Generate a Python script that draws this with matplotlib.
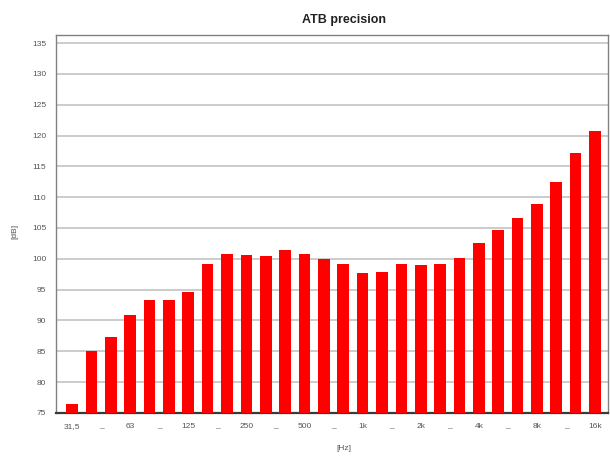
import matplotlib
matplotlib.use("Agg")
import matplotlib.pyplot as plt
import numpy as np

plt.rcParams['font.family'] = ['Liberation Sans', 'DejaVu Sans']

bands = ["31,5", "40", "50", "63", "80", "100", "125", "160", "200", "250",
         "315", "400", "500", "630", "800", "1k", "1,25k", "1,6k", "2k", "2,5k",
         "3,15k", "4k", "5k", "6,3k", "8k", "10k", "12,5k", "16k"]
levels_db = [76.4, 85.1, 87.4, 90.9, 93.4, 93.4, 94.6, 99.1, 100.8, 100.6,
             100.4, 101.4, 100.8, 99.9, 99.2, 97.7, 97.8, 99.1, 99.0, 99.1,
             100.1, 102.5, 104.6, 106.7, 108.9, 112.4, 117.2, 120.8]
tick_labels = ["31,5", "_", "63", "_", "125", "_", "250", "_", "500", "_",
               "1k", "_", "2k", "_", "4k", "_", "8k", "_", "16k"]
y_ticks = [75, 80, 85, 90, 95, 100, 105, 110, 115, 120, 125, 130, 135]

fig = plt.figure(figsize=(6.10, 4.58), dpi=100)
ax = fig.add_axes([0.0918, 0.0983, 0.9049, 0.8253])

x = np.arange(len(bands))
ax.bar(x, [v - 75 for v in levels_db], bottom=75, width=0.6, color="#ff0000", zorder=3)

ax.set_xlim(-0.83, len(bands) - 1 + 0.67)
ax.set_ylim(75, 136.3)
ax.set_yticks(y_ticks)
ax.set_yticklabels([str(t) for t in y_ticks])
tick_pos = np.arange(len(tick_labels)) * 1.5
ax.set_xticks(tick_pos)
ax.set_xticklabels(tick_labels)
ax.tick_params(axis="both", length=0, labelsize=6, colors="#555555", pad=7)

ax.yaxis.grid(True, color="#c4c4c4", linewidth=1.2, zorder=0)
ax.xaxis.grid(False)
for s in ["top", "left", "right"]:
    ax.spines[s].set_color("#808080")
    ax.spines[s].set_linewidth(1.0)
ax.spines["bottom"].set_color("#3a3a3a")
ax.spines["bottom"].set_linewidth(1.6)

fig.text(344 / 610, 1 - 20 / 458, "ATB precision", ha="center", va="center",
         fontsize=9, fontweight="bold", color="#222222")
fig.text(15 / 610, 1 - 231 / 458, "[dB]", ha="center", va="center",
         rotation=90, fontsize=6, color="#555555")
fig.text(344 / 610, 1 - 448 / 458, "[Hz]", ha="center", va="center",
         fontsize=6, color="#555555")

fig.savefig("out.png", dpi=100)
